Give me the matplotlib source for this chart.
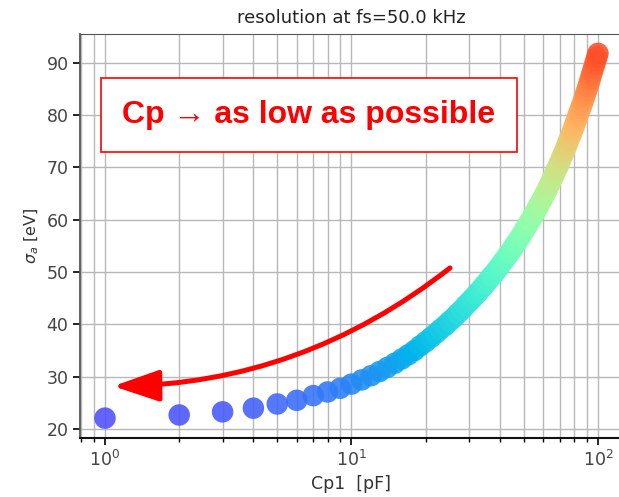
import matplotlib
matplotlib.use('Agg')
import matplotlib.pyplot as plt
import numpy as np
from matplotlib.colors import Normalize

# Cp1 values (pF) and resolution
cp1 = list(range(1, 101))
sigma = [
    22.1, 22.7, 23.3, 24.0, 24.8, 25.5, 26.4, 27.1, 27.8, 28.6,
    29.4, 30.2, 31.0, 31.8, 32.6, 33.4, 34.2, 35.0, 35.9, 36.7,
    37.5, 38.3, 39.1, 39.8, 40.6, 41.3, 42.1, 42.8, 43.6, 44.3,
    45.0, 45.7, 46.4, 47.1, 47.8, 48.5, 49.2, 49.8, 50.5, 51.2,
    51.9, 52.5, 53.2, 53.8, 54.5, 55.2, 55.8, 56.5, 57.1, 57.8,
    58.5, 59.1, 59.8, 60.4, 61.1, 61.7, 62.4, 63.0, 63.7, 64.3,
    65.0, 65.6, 66.3, 67.0, 67.7, 68.3, 69.0, 69.7, 70.3, 71.0,
    71.7, 72.4, 73.0, 73.7, 74.4, 75.1, 75.8, 76.4, 77.1, 77.8,
    78.5, 79.2, 79.9, 80.6, 81.3, 81.9, 82.6, 83.3, 84.0, 84.7,
    85.4, 86.1, 86.8, 87.6, 88.3, 89.0, 89.7, 90.4, 91.1, 91.8,
]

title = 'resolution at fs=50.0 kHz'
note = 'Cp \u2192 as low as possible'

fig = plt.figure(figsize=(6.19, 4.97), dpi=100)
ax = fig.add_axes([0.1298, 0.1187, 0.876, 0.8129])

ax.scatter(cp1, sigma, c=sigma, cmap='rainbow', norm=Normalize(13.3, 100.8),
           s=240, alpha=0.88, edgecolors='none', zorder=3)

ax.set_xscale('log')
ax.set_xlim(10 ** -0.1, 10 ** 2.1)
ax.set_ylim(18.3, 95.5)
ax.set_yticks([20, 30, 40, 50, 60, 70, 80, 90])
ax.grid(True, which='both', axis='x', color='#b8b8b8', lw=1.0)
ax.grid(True, which='major', axis='y', color='#b8b8b8', lw=1.0)

ax.set_title(title, fontsize=13, color='#222222', pad=8)
ax.set_xlabel('Cp1  [pF]', fontsize=12.5, color='#333333', labelpad=4)
ax.set_ylabel(r'$\sigma_a$ [eV]', fontsize=11.5, color='#333333', labelpad=4)
ax.tick_params(labelsize=12.5, labelcolor='#444444', width=1.2, length=5)
ax.tick_params(which='minor', width=1.0, length=3)
for sp in ax.spines.values():
    sp.set_color('#555555')
ax.spines['bottom'].set_color('#111111')
ax.spines['bottom'].set_linewidth(1.5)
ax.spines['left'].set_linewidth(1.3)

# red curved arrow
ax.annotate('', xy=(1.08, 28.2), xytext=(25.1, 50.8),
            arrowprops=dict(arrowstyle='-|>,head_length=1.4,head_width=0.48',
                            mutation_scale=20, color='red', lw=3.6,
                            connectionstyle='arc3,rad=-0.17',
                            shrinkA=0, shrinkB=0),
            zorder=4)

fig.text(0.499, 0.7686, note, fontsize=23, fontweight='bold', color='red',
         family=['Liberation Sans', 'DejaVu Sans'], ha='center', va='center',
         bbox=dict(boxstyle='square,pad=0.68', fc='white', ec='red', lw=1.2),
         zorder=5)

fig.savefig('out.png', dpi=100)
